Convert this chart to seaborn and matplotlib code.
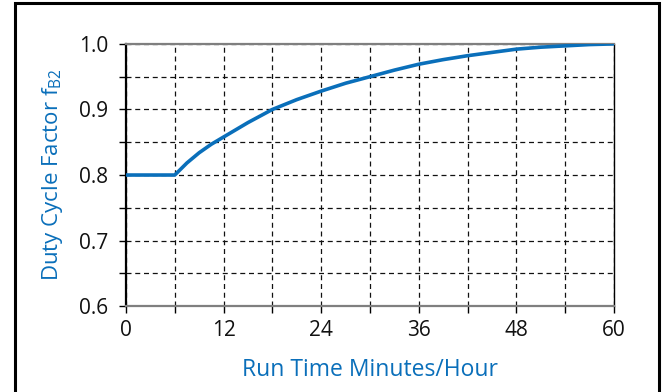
import pandas as pd
import matplotlib.pyplot as plt
import seaborn as sns
from matplotlib.patches import Rectangle

# Valori
run_time = [0, 6, 7.5, 9, 10.5, 12, 15, 18, 21, 24, 27, 30, 33, 36, 39, 42, 45, 48, 51, 54, 57, 60]
duty_factor = [0.800, 0.800, 0.8185, 0.834, 0.847, 0.858, 0.880, 0.900, 0.915, 0.928, 0.940, 0.950,
               0.960, 0.969, 0.976, 0.982, 0.987, 0.992, 0.995, 0.997, 0.999, 1.000]
x_ticks = [0, 12, 24, 36, 48, 60]
y_ticks = [0.6, 0.7, 0.8, 0.9, 1.0]

BLUE = '#0a6fba'

sns.set_theme(style="white")
plt.rcParams['font.family'] = ['Open Sans', 'DejaVu Sans']

df = pd.DataFrame({'run_time': run_time, 'duty_factor': duty_factor})

fig = plt.figure(figsize=(6.68, 3.92), dpi=100)
ax = fig.add_axes([0.1886, 0.219, 0.7304, 0.669])

sns.lineplot(data=df, x='run_time', y='duty_factor', ax=ax, color=BLUE, linewidth=2.6, zorder=5)

ax.set_xlim(0, 60)
ax.set_ylim(0.6, 1.0)
ax.set_xticks(x_ticks)
ax.set_xticks(range(0, 61, 6), minor=True)
ax.set_yticks(y_ticks)
ax.set_yticks([0.65, 0.75, 0.85, 0.95], minor=True)
ax.set_xticklabels([str(v) for v in x_ticks])
ax.set_yticklabels([f'{v:.1f}' for v in y_ticks])

ax.grid(True, which='both', color='#111111', linestyle=(0, (4, 3)), linewidth=0.9)
ax.tick_params(axis='both', which='both', direction='out', length=5, width=1.0,
               color='black', labelsize=15, labelcolor='#111111')
ax.tick_params(axis='x', which='both', pad=5, bottom=True)
ax.tick_params(axis='y', which='both', pad=8, left=True)

for side in ['left', 'right', 'top', 'bottom']:
    ax.spines[side].set_visible(True)
ax.spines['left'].set_color('black')
ax.spines['left'].set_linewidth(1.6)
ax.spines['right'].set_color('black')
ax.spines['right'].set_linewidth(1.0)
ax.spines['top'].set_color('#7f7f7f')
ax.spines['top'].set_linewidth(1.6)
ax.spines['bottom'].set_color('#7f7f7f')
ax.spines['bottom'].set_linewidth(1.6)

ax.set_xlabel('Run Time Minutes/Hour', color=BLUE, fontsize=16.5, labelpad=12)
ax.set_ylabel('Duty Cycle Factor f$_{\\mathregular{B2}}$', color=BLUE, fontsize=16, labelpad=10)

# cornice esterna
fig.patches.append(Rectangle((15 / 668, -0.05), 644 / 668, 1.042, transform=fig.transFigure,
                             fill=False, edgecolor='black', linewidth=2.2))

fig.savefig('out.png', dpi=100)
